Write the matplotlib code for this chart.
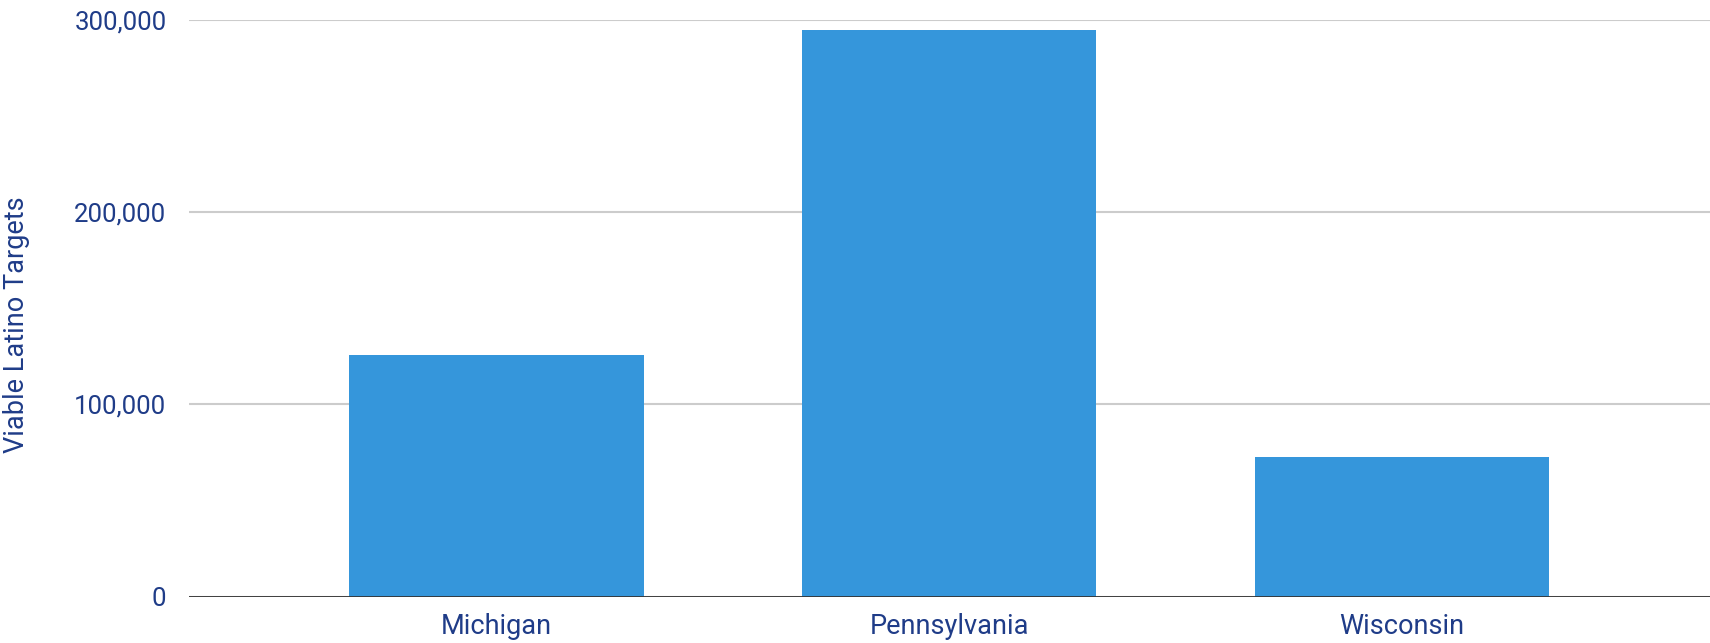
import matplotlib.pyplot as plt
from matplotlib.ticker import FuncFormatter

# ================= DATA =================

states = ["Michigan", "Pennsylvania", "Wisconsin"]
targets = [125500, 294500, 72800]
y_ticks = [0, 100000, 200000, 300000]

# ================= STYLE =================

plt.rcParams["font.family"] = ["Roboto", "DejaVu Sans"]

bar_color = "#3596db"
text_color = "#1f3c88"
grid_color = "#cccccc"

# ================= PLOT =================

fig = plt.figure(figsize=(17.1, 6.43), dpi=100)
ax = fig.add_axes([0.1103, 0.0722, 0.8897, 0.8973])

x = range(len(states))
ax.bar(x, targets, width=0.65, color=bar_color, zorder=3)

ax.set_xlim(-0.68, len(states) - 1 + 0.68)
ax.set_ylim(0, 300000)
ax.set_yticks(y_ticks)
ax.yaxis.set_major_formatter(FuncFormatter(lambda v, p: f"{int(v):,}"))
ax.set_xticks(list(x))
ax.set_xticklabels(states)

ax.grid(axis="y", color=grid_color, linewidth=1.5, zorder=0)
ax.axhline(0, color="#333333", linewidth=2, zorder=4)

for s in ax.spines.values():
    s.set_visible(False)

ax.tick_params(axis="both", length=0, colors=text_color)
ax.tick_params(axis="y", labelsize=18.5, pad=16)
ax.tick_params(axis="x", labelsize=19.5, pad=12)

ax.set_ylabel("Viable Latino Targets", fontsize=19.5, color=text_color)
ax.yaxis.set_label_coords(-0.104, 0.472)

fig.savefig("out.png", dpi=100)
